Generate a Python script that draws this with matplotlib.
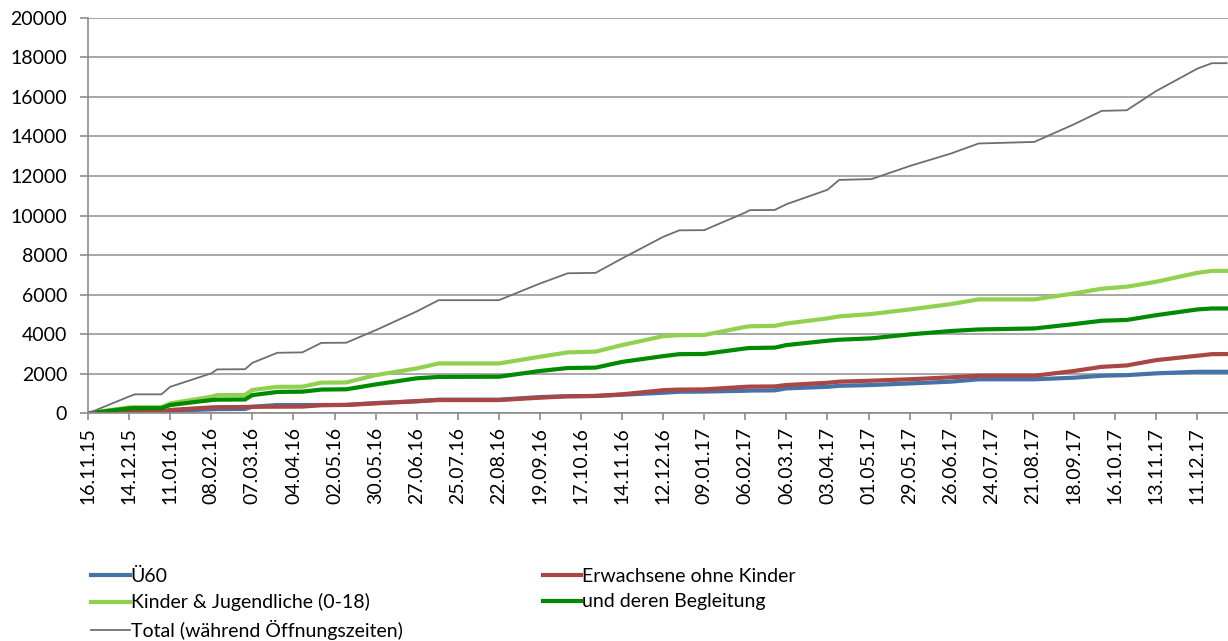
import matplotlib
matplotlib.use("Agg")
import matplotlib.pyplot as plt
import matplotlib.dates as mdates
import pandas as pd

plt.rcParams["font.family"] = ["Lato", "DejaVu Sans"]

# --------------------------------------------------------------------------- #
#  Cumulative visitor counts
# --------------------------------------------------------------------------- #
dates = [
    "16.11.15", "14.12.15", "18.12.15", "05.01.16", "11.01.16", "08.02.16",
    "12.02.16", "02.03.16", "07.03.16", "24.03.16", "10.04.16", "23.04.16",
    "10.05.16", "30.05.16", "27.06.16", "12.07.16", "22.08.16", "19.09.16",
    "08.10.16", "27.10.16", "14.11.16", "12.12.16", "23.12.16", "09.01.17",
    "06.02.17", "09.02.17", "26.02.17", "06.03.17", "03.04.17", "11.04.17",
    "03.05.17", "29.05.17", "26.06.17", "15.07.17", "22.08.17", "18.09.17",
    "07.10.17", "24.10.17", "13.11.17", "11.12.17", "21.12.17", "31.12.17",
]

total = [
    0, 850, 960, 960, 1340, 2020, 2220, 2230, 2550, 3060, 3080, 3560,
    3570, 4200, 5150, 5720, 5720, 6560, 7080, 7100, 7830, 8920, 9250, 9260,
    10150, 10270, 10280, 10570, 11300, 11800, 11840, 12500, 13130, 13640, 13720, 14610,
    15290, 15320, 16290, 17420, 17700, 17700,
]
kinder = [
    0, 300, 310, 310, 500, 840, 920, 930, 1180, 1340, 1345, 1550,
    1560, 1930, 2270, 2520, 2520, 2860, 3080, 3120, 3450, 3900, 3950, 3960,
    4370, 4400, 4420, 4540, 4800, 4900, 5020, 5250, 5520, 5760, 5760, 6060,
    6300, 6400, 6650, 7100, 7200, 7200,
]
begleitung = [
    0, 250, 260, 260, 420, 670, 690, 700, 920, 1080, 1095, 1200,
    1215, 1460, 1770, 1840, 1850, 2140, 2290, 2310, 2600, 2890, 2990, 3000,
    3280, 3300, 3320, 3450, 3670, 3720, 3790, 3990, 4160, 4240, 4290, 4510,
    4680, 4720, 4960, 5250, 5300, 5300,
]
erwachsene = [
    0, 80, 90, 90, 170, 300, 310, 320, 330, 335, 340, 410,
    425, 500, 620, 670, 670, 790, 860, 880, 960, 1170, 1200, 1210,
    1340, 1350, 1360, 1430, 1545, 1600, 1650, 1720, 1820, 1900, 1900, 2140,
    2350, 2420, 2690, 2910, 2990, 2995,
]
ue60 = [
    0, 60, 65, 65, 130, 200, 210, 220, 330, 420, 420, 420,
    425, 520, 600, 690, 690, 820, 865, 875, 940, 1040, 1090, 1100,
    1140, 1150, 1160, 1260, 1340, 1390, 1430, 1510, 1600, 1720, 1720, 1800,
    1900, 1930, 2020, 2100, 2100, 2100,
]

labels = ["Ü60", "Erwachsene ohne Kinder", "Kinder & Jugendliche (0-18)",
          "und deren Begleitung", "Total (während Öffnungszeiten)"]
colors = ["#4572A7", "#AA4643", "#92D050", "#008A00", "#6E6E6E"]
widths = [3.0, 3.0, 3.0, 3.0, 1.3]

x = pd.to_datetime(dates, format="%d.%m.%y")
start = pd.Timestamp("2015-11-16")

fig = plt.figure(figsize=(12.28, 6.41), dpi=100)
ax = fig.add_axes([0.0717, 0.3552, 0.9283, 0.6172])

handles = []
for vals, lab, col, lw in zip([ue60, erwachsene, kinder, begleitung, total],
                              labels, colors, widths):
    h, = ax.plot(x, vals, color=col, lw=lw, label=lab, solid_joinstyle="miter")
    handles.append(h)

ax.set_ylim(0, 20000)
ax.set_yticks(range(0, 20001, 2000))
ax.set_xlim(start, start + pd.Timedelta(days=777))
ax.set_xticks(pd.date_range(start, periods=28, freq="28D"))
ax.xaxis.set_major_formatter(mdates.DateFormatter("%d.%m.%y"))
ax.tick_params(axis="x", labelrotation=90, length=5, width=1.2,
               color="#8c8c8c", pad=5, labelsize=14)
ax.tick_params(axis="y", length=6, width=1.2, color="#8c8c8c", pad=9,
               labelsize=14)

ax.yaxis.grid(True, color="#a0a0a0", lw=1.3)
ax.set_axisbelow(True)
for s in ["top", "right"]:
    ax.spines[s].set_visible(False)
for s in ["left", "bottom"]:
    ax.spines[s].set_color("#8c8c8c")
    ax.spines[s].set_linewidth(1.2)

# legend: first column Ü60 / Kinder / Total, second column the other two
order = [0, 2, 4, 1, 3]
fig.legend([handles[i] for i in order], [labels[i] for i in order],
           loc="upper left", bbox_to_anchor=(0.074, 0.114), ncol=2,
           frameon=False, fontsize=14, handlelength=2.0, handletextpad=0.05,
           columnspacing=7.2, labelspacing=0.43, borderpad=0, borderaxespad=0)

fig.savefig("out.png", dpi=100)
